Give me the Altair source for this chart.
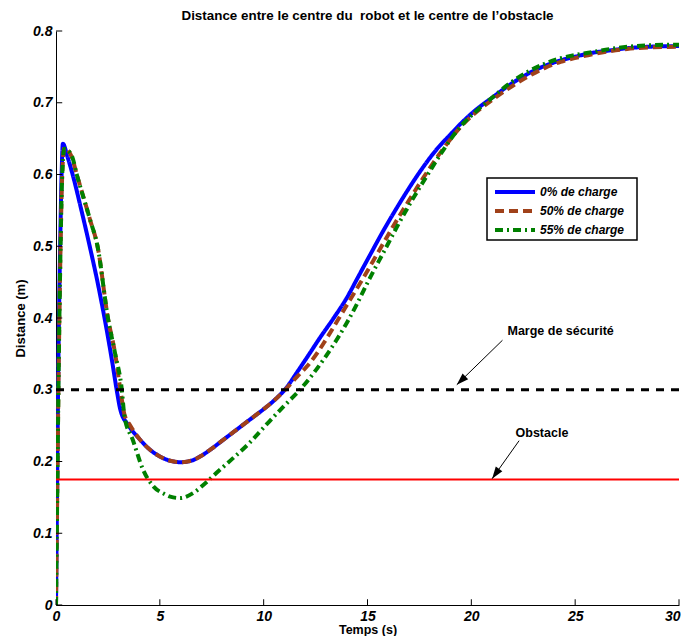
import altair as alt
import pandas as pd

# ---------------- data ----------------
series_names = ["0% de charge", "50% de charge", "55% de charge"]
series_colors = ["#0000ff", "#a0411a", "#008000"]
series_dashes = [[1, 0], [9, 5], [8, 4, 2, 4]]

t0 = [0, 0.05, 0.12, 0.2, 0.27, 0.33, 0.55, 0.8, 1.2, 1.6, 2.0, 2.4, 2.7, 2.95, 3.1, 3.5, 4.0,
      4.5, 5.0, 5.5, 6.0, 6.5, 7.0, 7.5, 8.0, 8.5, 9.0, 9.5, 10.0, 10.5, 11.1, 11.6, 12.2,
      12.7, 13.35, 14.0, 14.6, 15.2, 15.75, 16.4, 17.0, 17.6, 18.3, 19.0, 19.6, 20.3, 21.0,
      21.8, 22.7, 23.5, 24.3, 25.1, 25.9, 26.7, 27.5, 28.5, 30]
v0 = [0, 0.15, 0.35, 0.5, 0.6, 0.643, 0.625, 0.60, 0.553, 0.503, 0.45, 0.39, 0.34, 0.295,
      0.272, 0.25, 0.232, 0.217, 0.207, 0.201, 0.199, 0.201, 0.208, 0.218, 0.229, 0.24, 0.251,
      0.262, 0.273, 0.285, 0.303, 0.324, 0.35, 0.372, 0.399, 0.428, 0.46, 0.492, 0.521, 0.553,
      0.581, 0.607, 0.634, 0.656, 0.674, 0.692, 0.707, 0.724, 0.74, 0.751, 0.759, 0.765, 0.77,
      0.773, 0.776, 0.778, 0.779]

t50 = [0, 0.05, 0.13, 0.22, 0.3, 0.4, 0.75, 1.0, 1.64, 2.0, 2.5, 2.85, 3.1, 3.3, 3.56, 4.0,
       4.5, 5.0, 5.5, 6.0, 6.5, 7.0, 7.5, 8.0, 8.5, 9.0, 9.5, 10.0, 10.5, 11.1, 11.6, 12.1,
       12.6, 13.0, 13.9, 14.8, 15.5, 16.2, 17.0, 17.7, 18.6, 19.6, 20.5, 21.1, 21.9, 22.7,
       23.5, 24.3, 25.1, 25.9, 26.7, 27.5, 28.5, 30]
v50 = [0, 0.13, 0.33, 0.5, 0.6, 0.637, 0.625, 0.60, 0.537, 0.50, 0.40, 0.35, 0.30, 0.265,
       0.251, 0.232, 0.217, 0.207, 0.201, 0.199, 0.201, 0.208, 0.218, 0.229, 0.24, 0.251,
       0.262, 0.273, 0.285, 0.302, 0.318, 0.333, 0.352, 0.37, 0.413, 0.456, 0.491, 0.526,
       0.564, 0.596, 0.634, 0.67, 0.693, 0.706, 0.722, 0.736, 0.748, 0.757, 0.763, 0.768,
       0.772, 0.775, 0.777, 0.778]

t55 = [0, 0.05, 0.13, 0.22, 0.3, 0.4, 0.75, 1.0, 1.64, 2.0, 2.5, 2.85, 3.17, 3.3, 3.7, 4.2,
       4.7, 5.2, 5.5, 5.97, 6.6, 7.2, 7.8, 8.5, 9.25, 10.15, 11.0, 11.75, 12.4, 13.0, 13.5,
       14.0, 14.5, 15.1, 15.8, 16.4, 17.1, 17.86, 18.6, 19.45, 20.3, 21.04, 21.8, 22.7, 23.5,
       24.3, 25.1, 25.9, 26.7, 27.5, 28.5, 30]
v55 = [0, 0.13, 0.33, 0.5, 0.6, 0.636, 0.627, 0.60, 0.537, 0.50, 0.40, 0.35, 0.30, 0.262,
       0.23, 0.188, 0.165, 0.155, 0.151, 0.149, 0.156, 0.17, 0.186, 0.204, 0.224, 0.252, 0.278,
       0.30, 0.323, 0.347, 0.369, 0.393, 0.42, 0.455, 0.493, 0.526, 0.562, 0.598, 0.632,
       0.666, 0.69, 0.708, 0.726, 0.743, 0.754, 0.762, 0.767, 0.771, 0.775, 0.778, 0.78, 0.781]

safety_level = 0.3
obstacle_level = 0.175
x_ticks = [0, 5, 10, 15, 20, 25, 30]
y_ticks = [0, 0.1, 0.2, 0.3, 0.4, 0.5, 0.6, 0.7, 0.8]

annot_text = ["Marge de sécurité", "Obstacle"]
annot_tx = [24.3, 23.4]
annot_ty = [0.382, 0.24]
arrow_tail_x = [21.5, 22.3]
arrow_tail_y = [0.369, 0.229]
arrow_tip_x = [19.3, 21.0]
arrow_tip_y = [0.307, 0.176]
arrow_angle = [225.6, 215.4]

# ---------------- frames ----------------
rows = []
for name, ts, vs in zip(series_names, [t0, t50, t55], [v0, v50, v55]):
    for i, (t, v) in enumerate(zip(ts, vs)):
        rows.append({"t": t, "d": v, "serie": name, "i": i})
df = pd.DataFrame(rows)

FONT = "Liberation Sans"
xs = alt.Scale(domain=[0, 30], nice=False, zero=False)
ys = alt.Scale(domain=[0, 0.8], nice=False, zero=False)

x_axis = alt.Axis(values=x_ticks, ticks=False, grid=False, labelPadding=4,
                  labelFont=FONT, labelFontSize=14, labelFontWeight="bold",
                  labelFontStyle="italic", labelColor="black", domainColor="black",
                  labelAlign={"condition": {"test": "datum.value == 30", "value": "right"},
                              "value": "center"},
                  labelOffset={"condition": {"test": "datum.value == 30", "value": 1},
                               "value": 0},
                  title="Temps (s)", titleFont=FONT, titleFontSize=12.5, titleFontWeight="bold",
                  titleColor="black", titleX=311.5, titleY=24, titleBaseline="middle",
                  labelFlush=False, labelOverlap=False)
y_axis = alt.Axis(values=y_ticks, ticks=False, grid=False, labelPadding=4, format="~g",
                  labelFont=FONT, labelFontSize=14, labelFontWeight="bold",
                  labelFontStyle="italic", labelColor="black", domainColor="black",
                  title="Distance (m)", titleFont=FONT, titleFontSize=13, titleFontWeight="bold",
                  titleColor="black", titleX=-36, titleY=287, titleBaseline="middle",
                  titleAngle=270, titleAlign="center", labelFlush=False, labelOverlap=False)

color_scale = alt.Scale(domain=series_names, range=series_colors)
dash_scale = alt.Scale(domain=series_names, range=series_dashes)

lines = alt.Chart(df).mark_line(strokeWidth=4, interpolate="monotone", clip=True).encode(
    x=alt.X("t:Q", scale=xs, axis=x_axis),
    y=alt.Y("d:Q", scale=ys, axis=y_axis),
    color=alt.Color("serie:N", scale=color_scale, legend=None),
    strokeDash=alt.StrokeDash("serie:N", scale=dash_scale, legend=None),
    order="i:Q",
)

ref_df = pd.DataFrame({"y": [safety_level, obstacle_level], "x0": [0, 0], "x1": [30, 30]})
safety = alt.Chart(ref_df.iloc[[0]]).mark_rule(color="black", strokeWidth=3, strokeDash=[8, 7]).encode(
    x="x0:Q", x2="x1:Q", y="y:Q")
obstacle = alt.Chart(ref_df.iloc[[1]]).mark_rule(color="#ff0000", strokeWidth=2).encode(
    x="x0:Q", x2="x1:Q", y="y:Q")

yt_df = pd.DataFrame({"y": y_ticks, "x0": 0, "x1": 0.3})
xt_df = pd.DataFrame({"x": x_ticks, "y0": 0, "y1": 0.008})
yticks = alt.Chart(yt_df).mark_rule(color="black", strokeWidth=1).encode(x="x0:Q", x2="x1:Q", y="y:Q")
xticks = alt.Chart(xt_df).mark_rule(color="black", strokeWidth=1).encode(x="x:Q", y="y0:Q", y2="y1:Q")

ann_df = pd.DataFrame({"text": annot_text, "tx": annot_tx, "ty": annot_ty,
                       "x0": arrow_tail_x, "y0": arrow_tail_y, "x1": arrow_tip_x,
                       "y1": arrow_tip_y, "ang": arrow_angle})
texts = alt.Chart(ann_df).mark_text(font=FONT, fontSize=12.5, fontWeight="bold", color="black",
                                    align="center", baseline="middle").encode(
    x="tx:Q", y="ty:Q", text="text:N")
arrow_lines = alt.Chart(ann_df).mark_rule(color="black", strokeWidth=1).encode(
    x="x0:Q", y="y0:Q", x2="x1:Q", y2="y1:Q")
heads = alt.Chart(ann_df).mark_point(shape="M0,0L-0.4,1.2L0.4,1.2Z", filled=True, opacity=1,
                                     color="black", size=400).encode(
    x="x1:Q", y="y1:Q", angle=alt.Angle("ang:Q", scale=None))

# ---------------- hand-drawn legend box (pixel layout) ----------------
one = pd.DataFrame({"k": [0]})
legend_layers = [
    alt.Chart(one).mark_rect(fill="white", stroke="black", strokeWidth=1.5).encode(
        x=alt.value(431), x2=alt.value(581), y=alt.value(147), y2=alt.value(209))
]
for k, (name, col, dash) in enumerate(zip(series_names, series_colors, series_dashes)):
    ry = 161 + 19 * k
    legend_layers.append(
        alt.Chart(one).mark_rule(color=col, strokeWidth=4, strokeDash=dash).encode(
            x=alt.value(439), x2=alt.value(479), y=alt.value(ry)))
    legend_layers.append(
        alt.Chart(one).mark_text(text=name, font=FONT, fontSize=12, fontWeight="bold",
                                 fontStyle="italic", color="black", align="left",
                                 baseline="middle").encode(
            x=alt.value(484), y=alt.value(ry)))

chart = alt.layer(lines, safety, obstacle, yticks, xticks, arrow_lines, heads, texts,
                  *legend_layers).properties(
    width=623, height=574,
    title=alt.TitleParams("Distance entre le centre du\u00a0 robot et le centre de l\u2019obstacle",
                          font=FONT, fontSize=13.4, fontWeight="bold", color="black",
                          anchor="middle", offset=2),
    autosize=alt.AutoSizeParams(type="none"),
    padding={"left": 48, "top": 23, "right": 2, "bottom": 31},
).configure_view(stroke=None)

chart.save("out.html", embed_options={"renderer": "svg", "actions": False})
